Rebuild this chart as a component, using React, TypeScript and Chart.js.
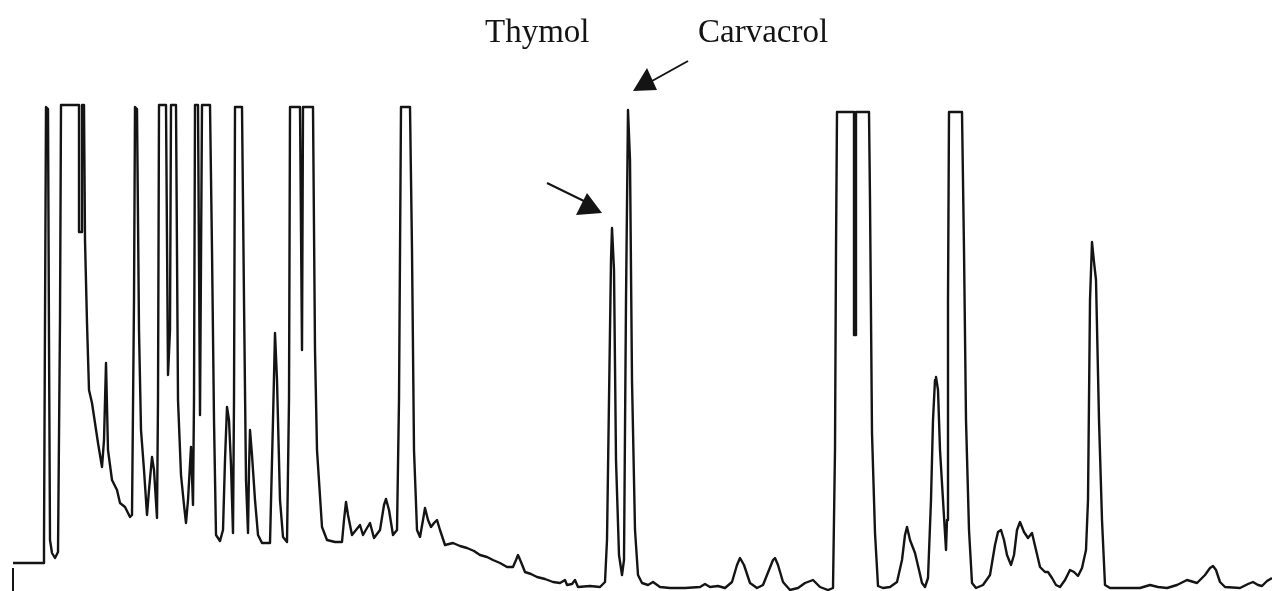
import React, { useEffect, useRef } from "react";
import { Chart, registerables } from "chart.js";

Chart.register(...registerables);

// Retention time (arbitrary scan units) of each traced point of the chromatogram
const retentionTime = [
  13, 44, 44, 45, 46, 48, 49, 50, 52, 55, 58, 60, 61, 79, 79, 82, 82, 84, 85, 87,
  89, 92, 95, 98, 102, 104, 106, 108, 112, 117, 120, 125, 130, 132, 134, 135, 137, 139, 141, 144,
  147, 149, 152, 154, 157, 158, 159, 166, 168, 170, 171, 176, 178, 181, 184, 186, 188, 191, 193, 194,
  195, 198, 200, 202, 210, 212, 214, 216, 220, 223, 225, 227, 229, 231, 233, 234, 235, 242, 244, 246,
  248, 249, 250, 252, 255, 258, 262, 270, 273, 275, 277, 280, 283, 287, 289, 290, 300, 302, 303, 313,
  315, 317, 322, 327, 335, 342, 344, 346, 348, 352, 356, 360, 363, 367, 370, 374, 380, 384, 386, 389,
  393, 397, 399, 401, 410, 412, 414, 417, 420, 423, 425, 428, 431, 434, 437, 440, 445, 453, 460, 467,
  474, 480, 487, 493, 500, 507, 513, 516, 518, 521, 525, 531, 537, 545, 553, 560, 565, 567, 572, 575,
  578, 590, 600, 605, 607, 609, 611, 612, 614, 616, 619, 622, 624, 626, 628, 630, 632, 635, 638, 642,
  648, 653, 660, 670, 685, 700, 705, 710, 718, 725, 732, 737, 740, 744, 750, 757, 763, 769, 773, 775,
  778, 783, 790, 798, 805, 813, 820, 828, 833, 835, 836, 837, 854, 854, 856, 856, 869, 870, 872, 875,
  878, 883, 890, 897, 902, 905, 907, 910, 915, 919, 922, 925, 928, 931, 933, 935, 936, 938, 940, 943,
  946, 947, 948, 949, 962, 964, 966, 969, 972, 976, 983, 990, 995, 998, 1001, 1004, 1007, 1011, 1014, 1017,
  1020, 1024, 1028, 1032, 1036, 1040, 1045, 1048, 1052, 1056, 1060, 1065, 1070, 1074, 1078, 1082, 1086, 1088, 1090, 1092,
  1094, 1096, 1099, 1102, 1105, 1110, 1130, 1140, 1150, 1158, 1167, 1177, 1187, 1197, 1205, 1210, 1213, 1216, 1220, 1225,
  1240, 1248, 1253, 1258, 1262, 1267, 1272,
];

// Detector response at each of those points
const detectorSignal = [
  28, 28, 49, 271, 484, 482, 251, 51, 38, 33, 39, 271, 486, 486, 359, 359, 486, 486, 351, 268,
  201, 188, 168, 148, 124, 151, 228, 141, 111, 101, 88, 84, 74, 76, 291, 484, 482, 261, 161, 121,
  76, 101, 134, 121, 73, 191, 486, 486, 216, 261, 486, 486, 191, 116, 86, 68, 91, 144, 86, 191,
  486, 486, 176, 486, 486, 341, 171, 56, 50, 61, 131, 184, 171, 126, 58, 191, 484, 484, 291, 111,
  58, 121, 161, 136, 91, 56, 48, 48, 171, 258, 211, 91, 54, 49, 191, 484, 484, 241, 484, 484,
  241, 141, 64, 51, 49, 49, 71, 89, 76, 56, 61, 66, 56, 63, 68, 53, 61, 86, 92, 81,
  56, 61, 191, 484, 484, 341, 141, 61, 54, 71, 83, 71, 64, 68, 71, 61, 46, 48, 45, 43,
  40, 36, 34, 31, 28, 24, 24, 31, 36, 29, 19, 17, 14, 12, 9, 8, 11, 6, 7, 11,
  4, 5, 4, 9, 51, 191, 331, 363, 321, 131, 36, 16, 31, 291, 481, 431, 211, 61, 16, 8,
  6, 9, 4, 3, 3, 4, 7, 4, 5, 3, 9, 26, 33, 26, 8, 3, 6, 21, 31, 33,
  26, 9, 1, 3, 8, 11, 4, 1, 3, 141, 341, 479, 479, 256, 256, 479, 479, 391, 158, 58,
  5, 3, 4, 9, 31, 56, 64, 51, 38, 21, 8, 4, 13, 91, 171, 211, 214, 201, 141, 91,
  41, 71, 291, 479, 479, 341, 171, 61, 8, 3, 6, 16, 46, 59, 61, 51, 36, 26, 36, 61,
  69, 59, 53, 58, 41, 24, 19, 19, 13, 6, 4, 11, 21, 19, 15, 23, 41, 91, 291, 349,
  329, 311, 171, 71, 6, 3, 3, 3, 6, 4, 3, 6, 11, 8, 16, 23, 25, 21, 9, 4,
  3, 7, 9, 6, 5, 10, 13,
];

// Start-of-run marker at the left edge
const markerTime = [13, 13];
const markerSignal = [23, 0];

// Peak annotations
const peakNames = ["Thymol", "Carvacrol"];
const nameTime = [485, 698];
const nameSignal = [549, 549];
const arrowTailTime = [547, 688];
const arrowTailSignal = [408, 530];
const arrowNeckTime = [588, 652];
const arrowNeckSignal = [388, 510];
const arrowTipTime = [602, 633];
const arrowTipSignal = [378, 500];
const arrowWingATime = [576, 657];
const arrowWingASignal = [376, 501];
const arrowWingBTime = [587, 647];
const arrowWingBSignal = [398, 523];

const INK = "#141414";

const annotationPlugin = {
  id: "peakAnnotations",
  afterDatasetsDraw(chart: any) {
    const { ctx } = chart;
    const xs = chart.scales.x;
    const ys = chart.scales.y;
    const px = (v: number) => xs.getPixelForValue(v);
    const py = (v: number) => ys.getPixelForValue(v);
    ctx.save();
    ctx.fillStyle = INK;
    ctx.strokeStyle = INK;
    ctx.font = '33px "Liberation Serif", "Times New Roman", serif';
    ctx.textBaseline = "alphabetic";
    ctx.textAlign = "left";
    peakNames.forEach((name, i) => {
      ctx.fillText(name, px(nameTime[i]), py(nameSignal[i]));
    });
    for (let i = 0; i < arrowTipTime.length; i++) {
      ctx.lineWidth = 2;
      ctx.beginPath();
      ctx.moveTo(px(arrowTailTime[i]), py(arrowTailSignal[i]));
      ctx.lineTo(px(arrowNeckTime[i]), py(arrowNeckSignal[i]));
      ctx.stroke();
      ctx.beginPath();
      ctx.moveTo(px(arrowTipTime[i]), py(arrowTipSignal[i]));
      ctx.lineTo(px(arrowWingATime[i]), py(arrowWingASignal[i]));
      ctx.lineTo(px(arrowWingBTime[i]), py(arrowWingBSignal[i]));
      ctx.closePath();
      ctx.fill();
    }
    ctx.restore();
  },
};

export default function App() {
  const canvasRef = useRef<HTMLCanvasElement | null>(null);

  useEffect(() => {
    document.body.style.margin = "0";
    const canvas = canvasRef.current;
    if (!canvas) return;
    const trace = retentionTime.map((t, i) => ({ x: t, y: detectorSignal[i] }));
    const marker = markerTime.map((t, i) => ({ x: t, y: markerSignal[i] }));
    const chart = new Chart(canvas, {
      type: "line",
      data: {
        datasets: [
          {
            label: "Chromatogram",
            data: trace,
            borderColor: INK,
            borderWidth: 2.4,
            pointRadius: 0,
            tension: 0,
            fill: false,
            borderJoinStyle: "round",
          },
          {
            label: "Start",
            data: marker,
            borderColor: INK,
            borderWidth: 2,
            pointRadius: 0,
            fill: false,
          },
        ],
      },
      options: {
        animation: false,
        responsive: true,
        maintainAspectRatio: false,
        layout: { padding: 0 },
        plugins: {
          legend: { display: false },
          tooltip: { enabled: false },
          title: { display: false },
        },
        scales: {
          x: { type: "linear", min: 0, max: 1272, display: false },
          y: { type: "linear", min: 0, max: 591, display: false },
        },
      },
      plugins: [annotationPlugin],
    });
    return () => chart.destroy();
  }, []);

  return (
    <div style={{ position: "absolute", left: 0, top: 0, width: 1272, height: 591, background: "#ffffff" }}>
      <canvas ref={canvasRef} />
    </div>
  );
}
